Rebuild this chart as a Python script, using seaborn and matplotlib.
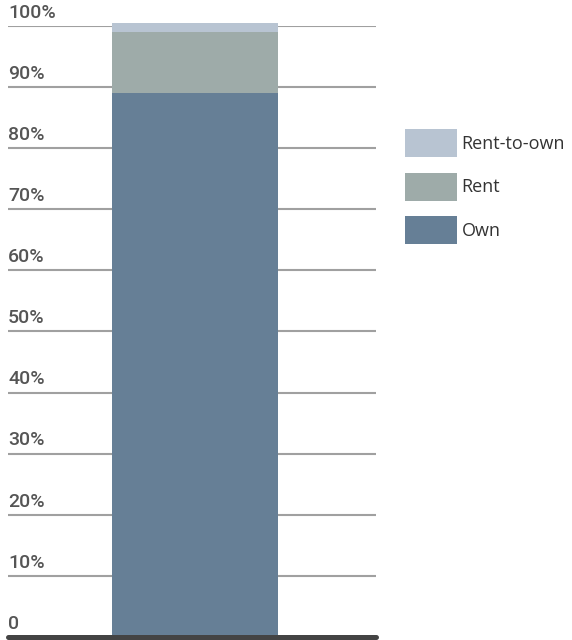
import matplotlib
matplotlib.use("Agg")
import matplotlib.pyplot as plt
import matplotlib.patches as mpatches
import numpy as np
import pandas as pd
import seaborn as sns

# Housing tenure shares (percent), stacked bottom to top
categories = ["All"]
segments = ["Own", "Rent", "Rent-to-own"]
own = [89.0]
rent = [10.0]
rent_to_own = [1.5]
colors = {"Own": "#667f96", "Rent": "#9eaba9", "Rent-to-own": "#b8c4d2"}
tick_values = [0, 10, 20, 30, 40, 50, 60, 70, 80, 90, 100]
tick_labels = ["0", "10%", "20%", "30%", "40%", "50%", "60%", "70%", "80%", "90%", "100%"]

sns.set_theme(style="white")
plt.rcParams["font.family"] = ["Roboto", "DejaVu Sans"]

df = pd.DataFrame({"group": categories, "Own": own, "Rent": rent, "Rent-to-own": rent_to_own})
cum = df[segments].cumsum(axis=1)

fig = plt.figure(figsize=(5.72, 6.4), dpi=100)
ax = fig.add_axes([0.014, 0.0047, 0.643, 0.9547])

# Gridlines drawn beneath the bar
for v in tick_values[1:]:
    ax.axhline(v, color="#a0a0a0", lw=1.5, zorder=0)

# Overlay cumulative totals, tallest first, to produce the stack
for seg in reversed(segments):
    plot_df = pd.DataFrame({"group": df["group"], "value": cum[seg]})
    sns.barplot(data=plot_df, x="group", y="value", color=colors[seg],
                width=0.451, saturation=1, ax=ax, zorder=2, clip_on=False,
                linewidth=0, edgecolor="none")

ax.axhline(0, color="#444444", lw=3.6, zorder=3, clip_on=False)

ax.set_xlim(-0.508, 0.492)
ax.set_ylim(0, 100)
ax.set_xticks([])
ax.set_yticks([])
ax.set_xlabel("")
ax.set_ylabel("")
for s in ax.spines.values():
    s.set_visible(False)

# Tick labels sit just above each gridline, flush left
for v, lab in zip(tick_values, tick_labels):
    ax.text(0.0, v + 1.35, lab, transform=ax.get_yaxis_transform(),
            ha="left", va="baseline", fontsize=14, fontweight="medium",
            color="#555555")

handles = [mpatches.Patch(facecolor=colors[s], edgecolor="none", label=s)
           for s in reversed(segments)]
leg = fig.legend(handles=handles, loc="upper left", bbox_to_anchor=(0.708, 0.798),
                 frameon=False, borderpad=0, borderaxespad=0,
                 prop={"family": ["Open Sans", "DejaVu Sans"], "size": 13},
                 handlelength=2.88, handleheight=2.0,
                 handletextpad=0.25, labelspacing=0.86)
for t in leg.get_texts():
    t.set_color("#333333")

fig.savefig("out.png", dpi=100)
